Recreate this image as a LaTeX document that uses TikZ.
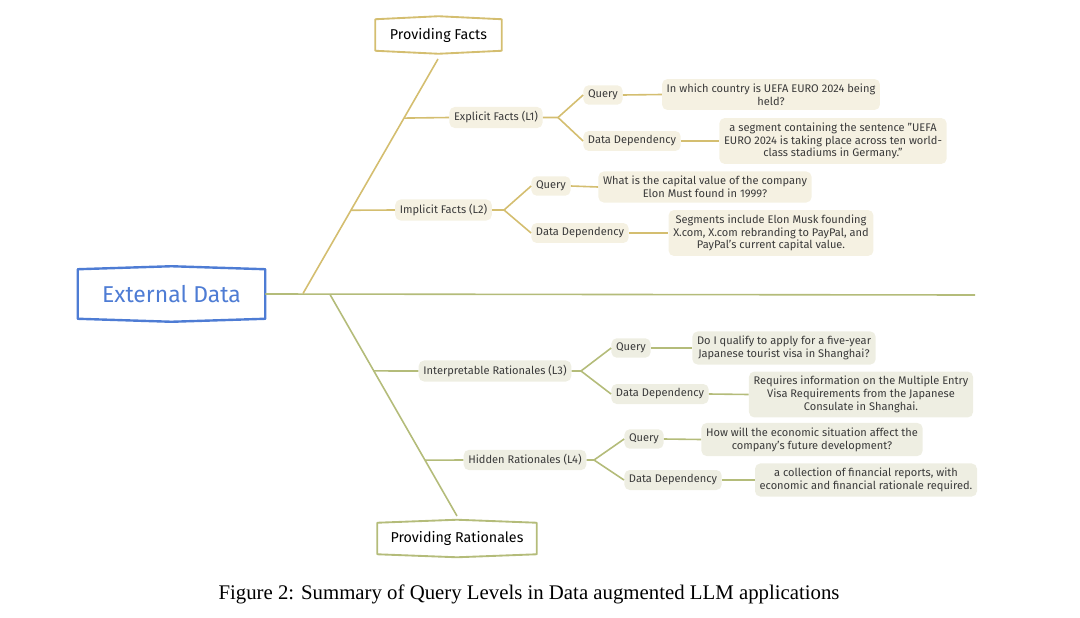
\documentclass[tikz,border=0pt]{standalone}
\usepackage{fontspec}
\setmainfont{Fira Sans}
\newfontfamily\capfont{Liberation Serif}
\usetikzlibrary{calc}
\definecolor{factc}{RGB}{212,190,112}
\definecolor{ratc}{RGB}{180,188,122}
\definecolor{rootc}{RGB}{78,124,212}
\definecolor{factbg}{RGB}{245,241,226}
\definecolor{ratbg}{RGB}{238,238,226}
\definecolor{txtc}{RGB}{58,58,58}
\tikzset{
  sm/.style={font=\fontsize{8.3}{9.6}\selectfont},
  lblf/.style={sm, fill=factbg, text=txtc, rounded corners=4pt, inner xsep=3.5pt, inner ysep=3.5pt, align=center},
  lblr/.style={lblf, fill=ratbg},
  hexnode/.style={inner sep=0pt, align=center},
  fline/.style={draw=factc, line width=1.2pt},
  rline/.style={draw=ratc, line width=1.2pt},
}
\newcommand{\hexframe}[3]{%
  \draw[#2, line width=#3, line join=round] (#1.north west) -- ($(#1.north)+(0,-3)$) -- (#1.north east) -- (#1.south east) -- ($(#1.south)+(0,3)$) -- (#1.south west) -- cycle;}
\begin{document}
\begin{tikzpicture}[x=0.75pt,y=-0.75pt]
\useasboundingbox (0,0) rectangle (1080,617);
% root
\node[hexnode, minimum width=187*0.75pt, minimum height=49*0.75pt, text=rootc, font=\fontsize{17.2}{19}\selectfont] (ed) at (171.5,294) {External Data};
\hexframe{ed}{rootc}{1.8pt}
\node[hexnode, minimum width=126*0.75pt, minimum height=31*0.75pt, font=\fontsize{10.7}{12}\selectfont] (pf) at (438.5,35) {Providing Facts};
\hexframe{pf}{factc}{1.4pt}
\node[hexnode, minimum width=159*0.75pt, minimum height=31*0.75pt, font=\fontsize{10.7}{12}\selectfont] (pr) at (457,538.5) {Providing Rationales};
\hexframe{pr}{ratc}{1.4pt}
% main spine
\coordinate (me) at (975,295);
\coordinate (jf) at (303,293.5);
\coordinate (jr) at (330,294.5);
\coordinate (tf) at (438,59);
\coordinate (tr) at (457,516);
\draw[rline] (ed.east) -- (me);
\draw[fline] (jf) -- (tf);
\draw[rline] (jr) -- (tr);
% level nodes
\node[lblf] (l1) at (496,117.5) {Explicit Facts (L1)};
\node[lblf] (l2) at (443.5,210) {Implicit Facts (L2)};
\node[lblr] (l3) at (495,371) {Interpretable Rationales (L3)};
\node[lblr] (l4) at (525,460) {Hidden Rationales (L4)};
\coordinate (b1) at ($(jf)!0.748!(tf)$);
\coordinate (b2) at ($(jf)!0.355!(tf)$);
\coordinate (b3) at ($(jr)!0.345!(tr)$);
\coordinate (b4) at ($(jr)!0.748!(tr)$);
\draw[fline] (b1) -- (l1.west);
\draw[fline] (b2) -- (l2.west);
\draw[rline] (b3) -- (l3.west);
\draw[rline] (b4) -- (l4.west);
% L1 children
\node[lblf] (q1) at (603,95) {Query};
\node[lblf] (d1) at (632,141) {Data Dependency};
\coordinate (k1) at (558,117.5);
\draw[fline] (l1.east) -- (k1) -- (q1.west);
\draw[fline] (k1) -- (d1.west);
\node[lblf] (t1) at (771,94.5) {In which country is UEFA EURO 2024 being\\held?};
\node[lblf] (t2) at (833,141) {a segment containing the sentence "UEFA\\EURO 2024 is taking place across ten world-\\class stadiums in Germany."};
\draw[fline] (q1.east) -- (t1.west);
\draw[fline] (d1.east) -- (t2.west);
% L2 children
\node[lblf] (q2) at (551,186) {Query};
\node[lblf] (d2) at (580,233) {Data Dependency};
\coordinate (k2) at (504,210);
\draw[fline] (l2.east) -- (k2) -- (q2.west);
\draw[fline] (k2) -- (d2.west);
\node[lblf] (t3) at (705,187) {What is the capital value of the company\\Elon Must found in 1999?};
\node[lblf] (t4) at (771,233) {Segments include Elon Musk founding\\X.com, X.com rebranding to PayPal, and\\PayPal's current capital value.};
\draw[fline] (q2.east) -- (t3.west);
\draw[fline] (d2.east) -- (t4.west);
% L3 children
\node[lblr] (q3) at (631,348) {Query};
\node[lblr] (d3) at (660,394) {Data Dependency};
\coordinate (k3) at (581,371);
\draw[rline] (l3.east) -- (k3) -- (q3.west);
\draw[rline] (k3) -- (d3.west);
\node[lblr] (t5) at (784,348) {Do I qualify to apply for a five-year\\Japanese tourist visa in Shanghai?};
\node[lblr] (t6) at (861,394.5) {Requires information on the Multiple Entry\\Visa Requirements from the Japanese\\Consulate in Shanghai.};
\draw[rline] (q3.east) -- (t5.west);
\draw[rline] (d3.east) -- (t6.west);
% L4 children
\node[lblr] (q4) at (644,439) {Query};
\node[lblr] (d4) at (673,480) {Data Dependency};
\coordinate (k4) at (594,460);
\draw[rline] (l4.east) -- (k4) -- (q4.west);
\draw[rline] (k4) -- (d4.west);
\node[lblr] (t7) at (812,439.5) {How will the economic situation affect the\\company's future development?};
\node[lblr] (t8) at (866,480) {a collection of financial reports, with\\economic and financial rationale required.};
\draw[rline] (q4.east) -- (t7.west);
\draw[rline] (d4.east) -- (t8.west);
% caption
\node[font=\capfont\fontsize{15.6}{18}\selectfont, inner sep=0pt] (cap) at (529,594) {Figure 2: Summary of Query Levels in Data augmented LLM applications};
\end{tikzpicture}
\end{document}
